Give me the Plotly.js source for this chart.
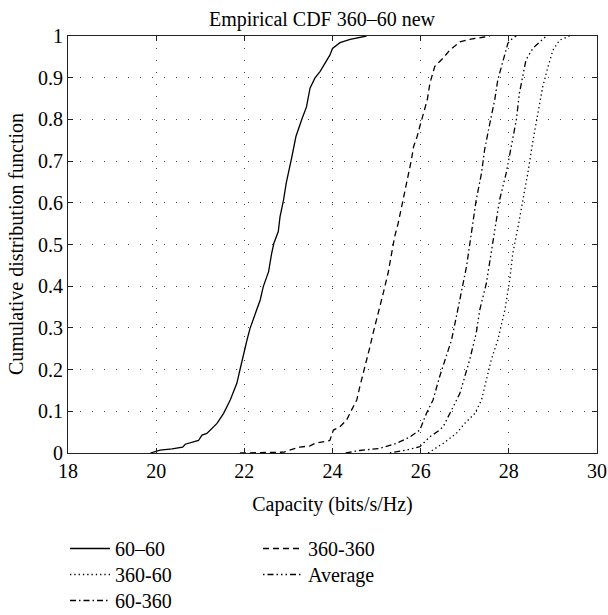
<!DOCTYPE html>
<html>
<head>
<meta charset="utf-8">
<script src="https://cdn.plot.ly/plotly-3.0.1.min.js"></script>
<style>html,body{margin:0;padding:0;background:#fff;}#chart{width:608px;height:615px;}</style>
</head>
<body>
<div id="chart"></div>
<script>
// ---- data ----
const names = ["60\u201360", "360-60", "60-360", "360-360", "Average"];

const x6060 = [19.87, 20.09, 20.36, 20.6, 20.66, 20.96, 21.04, 21.15, 21.38, 21.53, 21.68, 21.83, 21.9, 21.98, 22.06, 22.13, 22.28, 22.36, 22.43, 22.55, 22.62, 22.67, 22.77, 22.81, 22.89, 22.95, 23.08, 23.17, 23.30, 23.41, 23.49, 23.60, 23.72, 23.83, 23.94, 24.0, 24.17, 24.40, 24.62, 24.77];
const y6060 = [0, 0.007, 0.01, 0.014, 0.021, 0.03, 0.043, 0.047, 0.071, 0.095, 0.127, 0.167, 0.199, 0.239, 0.271, 0.299, 0.343, 0.367, 0.399, 0.435, 0.479, 0.503, 0.531, 0.567, 0.607, 0.647, 0.711, 0.759, 0.799, 0.83, 0.875, 0.899, 0.915, 0.935, 0.954, 0.97, 0.984, 0.992, 0.997, 1.0];

const x360360 = [21.9, 22.9, 23.0, 23.26, 23.49, 23.60, 23.94, 24.02, 24.17, 24.32, 24.47, 24.55, 24.62, 24.70, 24.77, 24.85, 24.92, 25.04, 25.15, 25.26, 25.34, 25.41, 25.49, 25.57, 25.64, 25.72, 25.79, 25.84, 25.92, 25.98, 26.06, 26.15, 26.21, 26.32, 26.51, 26.66, 26.89, 27.11, 27.41, 27.57];
const y360360 = [0, 0.002, 0.006, 0.014, 0.017, 0.023, 0.03, 0.055, 0.063, 0.079, 0.111, 0.127, 0.159, 0.191, 0.223, 0.255, 0.287, 0.335, 0.383, 0.431, 0.479, 0.519, 0.551, 0.591, 0.623, 0.663, 0.703, 0.735, 0.759, 0.783, 0.815, 0.847, 0.887, 0.927, 0.947, 0.966, 0.986, 0.992, 0.997, 1.0];

const x60360 = [24.3, 24.62, 25.07, 25.45, 25.75, 25.98, 26.13, 26.28, 26.43, 26.55, 26.70, 26.81, 26.92, 27.04, 27.15, 27.26, 27.38, 27.45, 27.57, 27.68, 27.75, 27.83, 27.91, 27.98, 28.09, 28.17];
const y60360 = [0, 0.006, 0.011, 0.023, 0.038, 0.055, 0.095, 0.127, 0.183, 0.223, 0.271, 0.327, 0.383, 0.447, 0.527, 0.607, 0.671, 0.727, 0.791, 0.847, 0.895, 0.927, 0.959, 0.983, 0.995, 1.0];

const xAvg = [25.3, 25.68, 25.98, 26.21, 26.43, 26.51, 26.70, 26.89, 27.0, 27.11, 27.26, 27.34, 27.49, 27.60, 27.72, 27.79, 27.94, 28.05, 28.17, 28.24, 28.32, 28.39, 28.55, 28.70, 28.85];
const yAvg = [0, 0.007, 0.015, 0.039, 0.055, 0.063, 0.103, 0.143, 0.183, 0.223, 0.287, 0.343, 0.407, 0.479, 0.559, 0.607, 0.671, 0.735, 0.799, 0.863, 0.903, 0.943, 0.971, 0.986, 1.0];

const x36060 = [26.17, 26.51, 26.81, 27.0, 27.23, 27.38, 27.49, 27.60, 27.75, 27.91, 28.02, 28.09, 28.21, 28.32, 28.43, 28.55, 28.66, 28.77, 28.89, 29.0, 29.15, 29.38];
const y36060 = [0, 0.023, 0.047, 0.071, 0.095, 0.127, 0.175, 0.223, 0.271, 0.343, 0.415, 0.479, 0.543, 0.607, 0.671, 0.751, 0.815, 0.879, 0.927, 0.966, 0.99, 1.0];

const xTicks = [18, 20, 22, 24, 26, 28, 30];
const yTicks = [0, 0.1, 0.2, 0.3, 0.4, 0.5, 0.6, 0.7, 0.8, 0.9, 1];
const yTickText = ["0", "0.1", "0.2", "0.3", "0.4", "0.5", "0.6", "0.7", "0.8", "0.9", "1"];
const yTitle = "Cumulative distribution function";

// ---- drawing ----
const FONT = "Liberation Serif, Times New Roman, serif";
const FS = 20;
const lw = 1.3;
function tr(x, y, name, dash, legend) {
  return {x: x, y: y, name: name, type: "scatter", mode: "lines",
    line: {color: "#000", width: lw, dash: dash}, legend: legend};
}
const traces = [
  tr(x6060, y6060, names[0], "solid", "legend"),
  tr(x36060, y36060, names[1], "1.3px,3px", "legend2"),
  tr(x60360, y60360, names[2], "6px,3px,1.5px,3px", "legend3"),
  tr(x360360, y360360, names[3], "6px,4px", "legend4"),
  tr(xAvg, yAvg, names[4], "1.5px,3px,6px,3px,1.5px,3px,1.5px,3px", "legend5")
];

const axisCommon = {
  showline: true, linecolor: "#222", linewidth: 1, mirror: "ticks",
  ticks: "inside", ticklen: 5, tickcolor: "#222",
  showgrid: true, gridcolor: "#444", gridwidth: 1, griddash: "1px,11px",
  zeroline: false, tickfont: {family: FONT, size: FS, color: "#000"}
};

const legendCommon = {xref: "container", yref: "container", xanchor: "left", yanchor: "top",
  bgcolor: "rgba(0,0,0,0)", font: {family: FONT, size: FS, color: "#000"},
  tracegroupgap: 0, itemwidth: 40};
function leg(px, top) { return Object.assign({}, legendCommon, {x: px/608, y: (615-top)/615}); }

const plotW = 530;
const layout = {
  width: 608, height: 615,
  margin: {l: 67.5, r: 10.5, t: 36, b: 162, autoexpand: false},
  paper_bgcolor: "#fff", plot_bgcolor: "#fff",
  font: {family: FONT, size: FS, color: "#000"},
  title: {text: "Empirical CDF 360\u201360 new", xref: "container", x: 322/608, xanchor: "center",
    yref: "container", y: (615-19)/615, yanchor: "middle",
    font: {family: FONT, size: FS, color: "#000"}},
  xaxis: Object.assign({}, axisCommon, {range: [18, 30], tickvals: xTicks, ticktext: xTicks.map(String),
    title: {text: "Capacity (bits/s/Hz)", standoff: 15, font: {family: FONT, size: FS}}}),
  yaxis: Object.assign({}, axisCommon, {range: [0, 1], tickvals: yTicks, ticktext: yTickText}),
  annotations: [{text: yTitle, xref: "paper", yref: "paper", x: (15 - 67.5)/plotW, y: 0.5,
    xanchor: "center", yanchor: "middle", textangle: -90, showarrow: false,
    font: {family: FONT, size: FS, color: "#000"}}],
  showlegend: true,
  legend: leg(65, 529),
  legend2: leg(65, 555),
  legend3: leg(65, 581),
  legend4: leg(258, 529),
  legend5: leg(258, 555)
};

Plotly.newPlot("chart", traces, layout, {displayModeBar: false, staticPlot: true});
</script>
</body>
</html>
